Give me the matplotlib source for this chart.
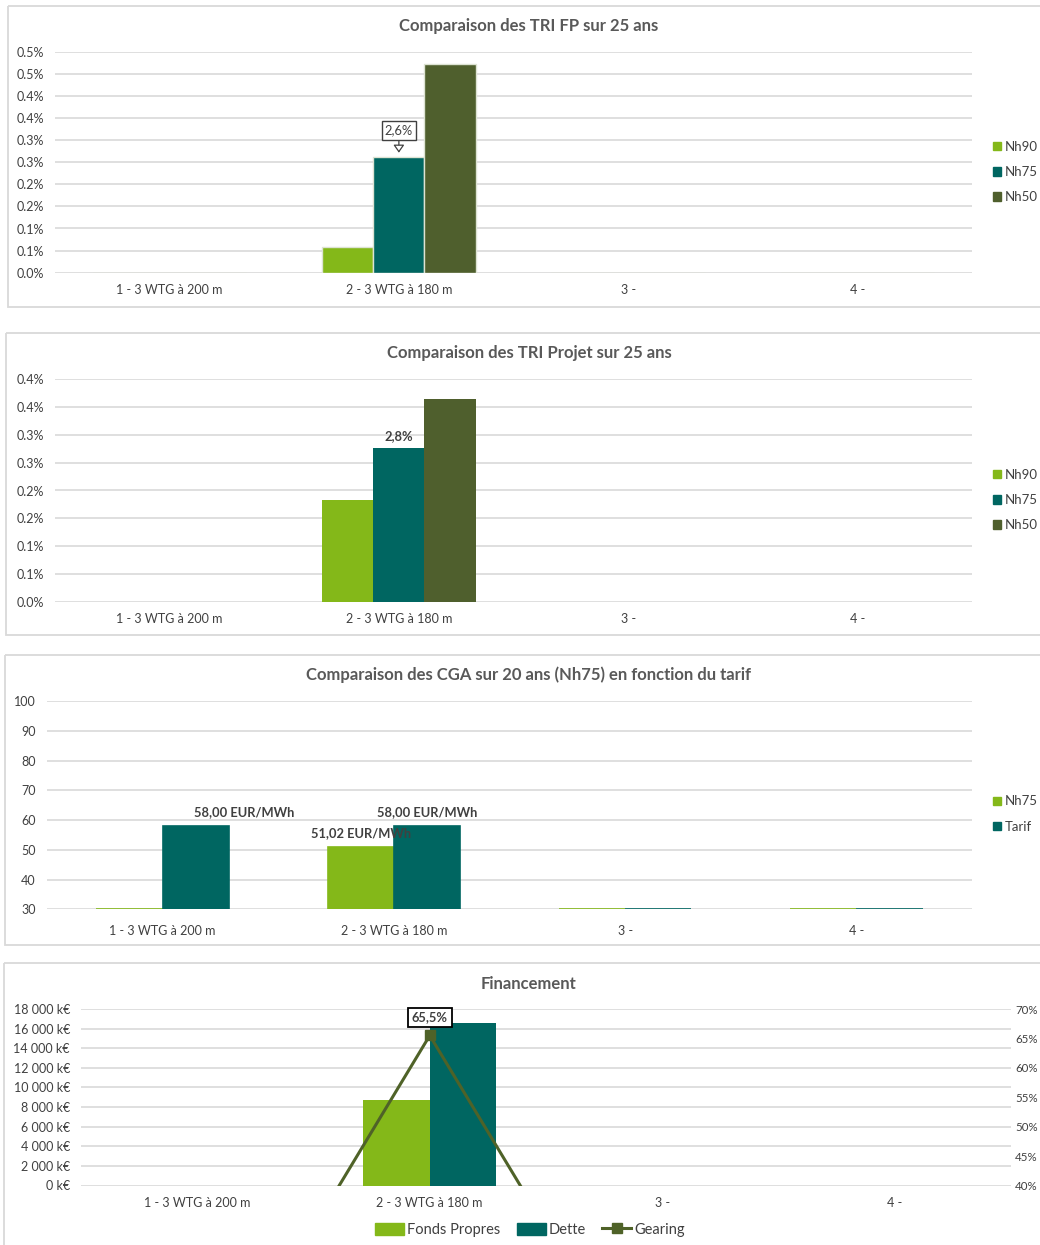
import numpy as np
import matplotlib
matplotlib.use("Agg")
import matplotlib.pyplot as plt
from matplotlib.patches import Rectangle, Patch
from matplotlib.lines import Line2D
from matplotlib.ticker import FuncFormatter

plt.rcParams["font.family"] = ["Lato", "DejaVu Sans"]

W, H = 1040, 1245

# ---- data ----
categories = ["1 - 3 WTG à 200 m", "2 - 3 WTG à 180 m", "3 -", "4 -"]

tri_fp_nh90 = [0, 0.58, 0, 0]
tri_fp_nh75 = [0, 2.62, 0, 0]
tri_fp_nh50 = [0, 4.72, 0, 0]
tri_fp_ticklabels = ["0.0%", "0.1%", "0.1%", "0.2%", "0.2%", "0.3%",
                     "0.3%", "0.4%", "0.4%", "0.5%", "0.5%"]

tri_pj_nh90 = [0, 1.83, 0, 0]
tri_pj_nh75 = [0, 2.76, 0, 0]
tri_pj_nh50 = [0, 3.64, 0, 0]
tri_pj_ticklabels = ["0.0%", "0.1%", "0.1%", "0.2%", "0.2%",
                     "0.3%", "0.3%", "0.4%", "0.4%"]

cga_nh75 = [0, 51.02, 0, 0]
cga_tarif = [58.00, 58.00, 0, 0]

fin_fonds_propres = [0, 8750, 0, 0]
fin_dette = [0, 16600, 0, 0]
fin_gearing = [0, 65.5, 0, 0]

# ---- styles ----
C_LIGHT = "#84B819"
C_TEAL = "#006661"
C_OLIVE = "#4F5F2D"
GRID = "#D9D9D9"
TXT = "#404040"
TITLE = "#595959"
TICK_FS = 9
LABEL_FS = 9.3

fig = plt.figure(figsize=(W / 100, H / 100), dpi=100)

bg = fig.add_axes([0, 0, 1, 1])
bg.set_xlim(0, W)
bg.set_ylim(H, 0)
bg.axis("off")
bg.set_zorder(-1)
for (l, t, r, b) in [(8, 6, 1060, 307), (6, 333, 1060, 635),
                     (5, 655, 1060, 945), (4, 963, 1060, 1260)]:
    bg.add_patch(Rectangle((l, t), r - l, b - t, fill=False, ec=GRID, lw=1.3))


def px_axes(l, t, r, b):
    return fig.add_axes([l / W, 1 - b / H, (r - l) / W, (b - t) / H])


def setup(ax, ymin, ymax, step):
    ax.set_xlim(-0.5, 3.5)
    ax.set_ylim(ymin, ymax)
    ax.set_yticks(np.arange(ymin, ymax + step / 2, step))
    ax.grid(axis="y", color=GRID, lw=1.2)
    ax.set_axisbelow(True)
    for s in ax.spines.values():
        s.set_visible(False)
    ax.tick_params(length=0, colors=TXT, labelsize=TICK_FS)
    ax.tick_params(axis="x", pad=8)
    ax.tick_params(axis="y", pad=8)
    ax.set_xticks(range(len(categories)))
    ax.set_xticklabels(categories)


def title(y, s):
    bg.text(529, y, s, ha="center", va="center", fontsize=12,
            fontweight="bold", color=TITLE)


def side_legend(y_center, labels, colors):
    handles = [Patch(fc=c, ec=c) for c in colors]
    fig.legend(handles, labels, loc="center left",
               bbox_to_anchor=(988 / W, 1 - y_center / H), frameon=False,
               fontsize=9.5, handlelength=0.6, handleheight=0.6,
               handletextpad=0.3, labelspacing=1.0, labelcolor=TXT,
               borderaxespad=0)


x = np.arange(len(categories))

# ---- chart 1: TRI FP ----
ax1 = px_axes(55, 51.7, 972, 272.7)
w = 0.223
ax1.bar(x - w, tri_fp_nh90, w, color=C_LIGHT, ec="#DDE3D3", lw=1.0)
ax1.bar(x, tri_fp_nh75, w, color=C_TEAL, ec="#DDE3D3", lw=1.0)
ax1.bar(x + w, tri_fp_nh50, w, color=C_OLIVE, ec="#DDE3D3", lw=1.0)
setup(ax1, 0, 5.0, 0.5)
ax1.set_yticklabels(tri_fp_ticklabels)
ax1.annotate("2,6%", xy=(1, tri_fp_nh75[1]), xytext=(0, 19),
             textcoords="offset points", ha="center", va="center",
             fontsize=LABEL_FS, color=TXT,
             bbox=dict(boxstyle="square,pad=0.25", fc="white", ec="#404040", lw=1.0),
             arrowprops=dict(arrowstyle="-|>,head_length=0.5,head_width=0.35",
                             fc="white", color="#404040", lw=0.9,
                             shrinkA=0, shrinkB=3))
title(26, "Comparaison des TRI FP sur 25 ans")
side_legend(172, ["Nh90", "Nh75", "Nh50"], [C_LIGHT, C_TEAL, C_OLIVE])

# ---- chart 2: TRI Projet ----
ax2 = px_axes(55, 379, 972, 602)
ax2.bar(x - w, tri_pj_nh90, w, color=C_LIGHT)
ax2.bar(x, tri_pj_nh75, w, color=C_TEAL)
ax2.bar(x + w, tri_pj_nh50, w, color=C_OLIVE)
setup(ax2, 0, 4.0, 0.5)
ax2.set_yticklabels(tri_pj_ticklabels)
ax2.annotate("2,8%", xy=(1, tri_pj_nh75[1]), xytext=(0, 9),
             textcoords="offset points", ha="center", va="center",
             fontsize=LABEL_FS, fontweight="bold", color=TXT)
title(353, "Comparaison des TRI Projet sur 25 ans")
side_legend(500, ["Nh90", "Nh75", "Nh50"], [C_LIGHT, C_TEAL, C_OLIVE])

# ---- chart 3: CGA ----
CGA_MIN = 30
ax3 = px_axes(47, 701, 972, 909.3)
w3 = 0.286
h75 = np.clip(np.array(cga_nh75) - CGA_MIN, 0, None)
htar = np.clip(np.array(cga_tarif) - CGA_MIN, 0, None)
ax3.bar(x - w3 / 2, h75, w3, bottom=CGA_MIN, color=C_LIGHT, ec=C_LIGHT, lw=1.2)
ax3.bar(x + w3 / 2, htar, w3, bottom=CGA_MIN, color=C_TEAL, ec=C_TEAL, lw=1.2)
setup(ax3, CGA_MIN, 100, 10)
ax3.tick_params(axis="x", pad=11)
tarif_label_dx = [35, 0]
for i in range(2):
    ax3.annotate(f"{cga_tarif[i]:.2f}".replace(".", ",") + " EUR/MWh",
                 xy=(x[i] + w3 / 2, cga_tarif[i]), xytext=(tarif_label_dx[i], 10),
                 textcoords="offset points", ha="center", va="center",
                 fontsize=LABEL_FS, fontweight="bold", color=TXT)
ax3.annotate(f"{cga_nh75[1]:.2f}".replace(".", ",") + " EUR/MWh",
             xy=(x[1] - w3 / 2, cga_nh75[1]), xytext=(0, 10),
             textcoords="offset points", ha="center", va="center",
             fontsize=LABEL_FS, fontweight="bold", color=TXT, zorder=1)
title(675, "Comparaison des CGA sur 20 ans (Nh75) en fonction du tarif")
side_legend(814, ["Nh75", "Tarif"], [C_LIGHT, C_TEAL])

# ---- chart 4: Financement ----
ax4 = px_axes(81, 1009, 1011, 1185.5)
w4 = 0.285
ax4.bar(x - w4 / 2, fin_fonds_propres, w4, color=C_LIGHT)
ax4.bar(x + w4 / 2, fin_dette, w4, color=C_TEAL)
setup(ax4, 0, 18000, 2000)
ax4.yaxis.set_major_formatter(
    FuncFormatter(lambda v, p: f"{v:,.0f}".replace(",", " ") + " k€"))

ax4r = ax4.twinx()
ax4r.plot(x, fin_gearing, color="#4F6228", lw=2.2, marker="s", ms=7.5,
          markevery=[1], solid_capstyle="butt")
ax4r.set_ylim(40, 70)
ax4r.set_yticks(np.arange(40, 71, 5))
ax4r.yaxis.set_major_formatter(FuncFormatter(lambda v, p: f"{v:.0f}%"))
# the reference crops these at the image edge; keep them whole but tight
ax4r.tick_params(length=0, colors=TXT, labelsize=8.3, pad=3)
for s in ax4r.spines.values():
    s.set_visible(False)
ax4r.annotate(f"{fin_gearing[1]:.1f}%".replace(".", ","), xy=(1, fin_gearing[1]),
              xytext=(0, 13), textcoords="offset points", ha="center",
              va="center", fontsize=LABEL_FS, fontweight="bold", color=TXT,
              bbox=dict(boxstyle="square,pad=0.3", fc="white", ec="black", lw=1.3))
title(984, "Financement")
fig.legend([Patch(fc=C_LIGHT, ec=C_LIGHT), Patch(fc=C_TEAL, ec=C_TEAL),
            Line2D([], [], color="#4F6228", lw=2.2, marker="s", ms=6.5)],
           ["Fonds Propres", "Dette", "Gearing"], loc="center",
           bbox_to_anchor=(530 / W, 1 - 1230 / H), ncol=3, frameon=False,
           fontsize=10.5, handlelength=2.0, handleheight=0.9, handletextpad=0.2,
           columnspacing=1.1, labelcolor=TXT, borderaxespad=0)

fig.savefig("out.png", dpi=100)
